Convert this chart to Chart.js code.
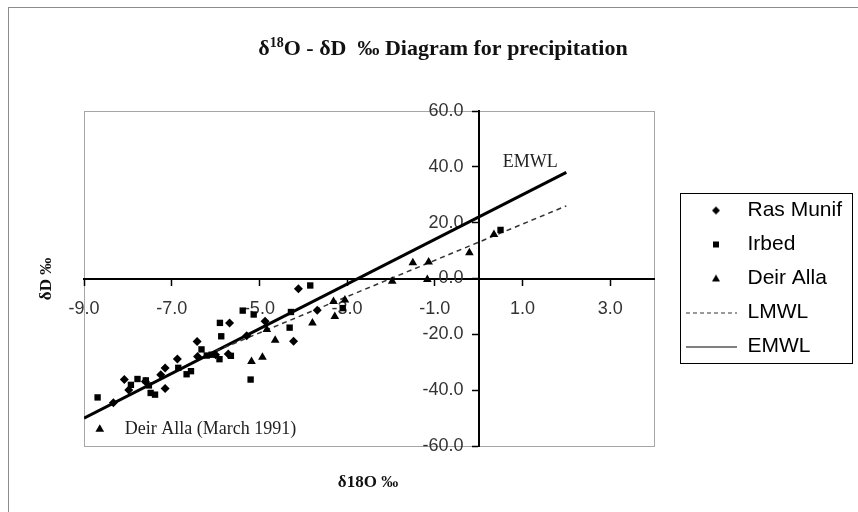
<!DOCTYPE html>
<html>
<head>
<meta charset="utf-8">
<script src="https://cdn.jsdelivr.net/npm/chart.js@4.4.1/dist/chart.umd.min.js"></script>
<style>
  html, body { margin: 0; padding: 0; background: #fff; }
  #wrap { width: 858px; height: 512px; }
</style>
</head>
<body>
<div id="wrap"><canvas id="isoChart"></canvas></div>
<script>
// values (δ18O, δD in per mil)
const rasMunifX = [-8.33, -8.08, -7.98, -7.6, -7.25, -7.15, -7.15, -6.87, -6.42, -6.41, -6.0, -5.71, -5.68, -5.29, -4.87, -4.22, -4.11, -3.68];
const rasMunifY = [-44.5, -36.2, -39.9, -36.9, -34.5, -32.1, -39.4, -28.8, -22.6, -27.9, -27.3, -27.0, -15.9, -20.5, -15.3, -22.5, -3.7, -11.4];

const irbedX = [-8.69, -7.93, -7.78, -7.59, -7.52, -7.48, -7.38, -6.85, -6.66, -6.56, -6.32, -6.2, -6.09, -5.91, -5.65, -5.87, -5.9, -5.38, -5.13, -5.2, -4.31, -4.28, -3.84, -3.1, 0.5];
const irbedY = [-42.6, -38.1, -36.0, -36.5, -38.3, -41.0, -41.6, -32.0, -34.3, -33.2, -25.4, -27.6, -27.3, -28.9, -27.7, -20.7, -15.9, -11.5, -12.9, -36.2, -17.6, -12.0, -2.5, -10.6, 17.4];

const deirAllaX = [-8.64, -5.18, -4.93, -4.83, -4.64, -3.79, -3.31, -3.28, -3.05, -1.97, -1.5, -1.14, -1.17, -0.21, 0.35];
const deirAllaY = [-54.0, -29.7, -28.2, -18.3, -22.1, -15.9, -8.2, -13.6, -7.7, -1.0, 5.6, 5.9, -0.4, 9.2, 15.8];

const lmwlX = [-6, 2];
const lmwlY = [-26, 26];
const emwlX = [-9, 2];
const emwlY = [-50, 38];

const xTicks = [-9, -7, -5, -3, -1, 1, 3];
const yTicks = [-60, -40, -20, 0, 20, 40, 60];

function pts(xs, ys) {
  return xs.map((x, i) => ({ x: x, y: ys[i] }));
}

// small legend keys, drawn as images so points and lines can share one width
const KEY_W = 70, KEY_H = 14;
function makeKey(kind) {
  const c = document.createElement('canvas');
  c.width = KEY_W; c.height = KEY_H;
  const g = c.getContext('2d');
  const cx = 49, cy = KEY_H / 2;
  g.fillStyle = '#000';
  g.strokeStyle = '#000';
  g.beginPath();
  if (kind === 'diamond') {
    g.moveTo(cx, cy - 4); g.lineTo(cx + 4, cy); g.lineTo(cx, cy + 4); g.lineTo(cx - 4, cy); g.closePath(); g.fill();
  } else if (kind === 'square') {
    g.fillRect(cx - 3, cy - 3, 6, 6);
  } else if (kind === 'triangle') {
    g.moveTo(cx, cy - 4); g.lineTo(cx + 4, cy + 3); g.lineTo(cx - 4, cy + 3); g.closePath(); g.fill();
  } else {
    g.lineWidth = 1;
    g.strokeStyle = kind === 'dash' ? '#333' : '#000';
    if (kind === 'dash') g.setLineDash([4, 3]);
    g.moveTo(19, cy + 0.5); g.lineTo(KEY_W, cy + 0.5); g.stroke();
  }
  return c;
}
const keyStyles = [makeKey('diamond'), makeKey('square'), makeKey('triangle'), makeKey('dash'), makeKey('solid')];

const decor = {
  id: 'decor',
  beforeDraw(chart) {
    const { ctx, chartArea: a } = chart;
    ctx.save();
    ctx.fillStyle = '#fff';
    ctx.fillRect(0, 0, chart.width, chart.height);
    ctx.strokeStyle = '#8c8c8c';
    ctx.lineWidth = 1;
    ctx.strokeRect(8.5, 7.5, 900, 600);
    ctx.strokeStyle = '#a6a6a6';
    ctx.strokeRect(a.left + 0.5, a.top + 0.5, a.right - a.left, a.bottom - a.top);
    ctx.restore();
  },
  afterDraw(chart) {
    const { ctx, scales } = chart;
    ctx.save();
    ctx.fillStyle = '#111';

    // title with superscript 18
    const parts = [
      { t: 'δ', f: 'bold 22px "Liberation Serif"', dy: 0 },
      { t: '18', f: 'bold 14px "Liberation Serif"', dy: -8 },
      { t: 'O - δD  ‰ Diagram for precipitation', f: 'bold 22px "Liberation Serif"', dy: 0 }
    ];
    let total = 0;
    parts.forEach(p => { ctx.font = p.f; p.w = ctx.measureText(p.t).width; total += p.w; });
    let tx = 443 - total / 2;
    ctx.textBaseline = 'alphabetic';
    ctx.textAlign = 'left';
    parts.forEach(p => { ctx.font = p.f; ctx.fillText(p.t, tx, 55 + p.dy); tx += p.w; });

    // axis titles
    ctx.font = 'bold 17px "Liberation Serif"';
    ctx.textAlign = 'center';
    ctx.textBaseline = 'middle';
    ctx.fillText('δ18O ‰', 368, 483);
    ctx.save();
    ctx.translate(47, 279);
    ctx.rotate(-Math.PI / 2);
    ctx.fillText('δD ‰', 0, 0);
    ctx.restore();

    // notes inside the plot
    ctx.font = '18px "Liberation Serif"';
    ctx.fillStyle = '#222';
    ctx.textAlign = 'center';
    ctx.fillText('EMWL', scales.x.getPixelForValue(1.18), scales.y.getPixelForValue(41.7));
    ctx.textAlign = 'left';
    ctx.fillText('Deir Alla (March 1991)', scales.x.getPixelForValue(-8.07), scales.y.getPixelForValue(-54));

    // legend frame
    const hb = chart.legend.legendHitBoxes;
    if (hb && hb.length) {
      const l = Math.min(...hb.map(h => h.left)) + 13;
      const r = Math.max(...hb.map(h => h.left + h.width)) + 10;
      const t = hb[0].top - 7;
      const b = hb[hb.length - 1].top + hb[hb.length - 1].height + 6;
      ctx.strokeStyle = '#000';
      ctx.lineWidth = 1;
      ctx.strokeRect(Math.round(l) + 0.5, Math.round(t) + 0.5, Math.round(r - l), Math.round(b - t));
    }
    ctx.restore();
  }
};

const tickFont = { family: '"Liberation Sans", Arial, sans-serif', size: 18 };

new Chart(document.getElementById('isoChart'), {
  type: 'scatter',
  data: {
    datasets: [
      { label: 'Ras Munif', data: pts(rasMunifX, rasMunifY), pointStyle: 'rectRot', pointRadius: 4.5, backgroundColor: '#000', borderColor: '#000', borderWidth: 0 },
      { label: 'Irbed', data: pts(irbedX, irbedY), pointStyle: 'rect', pointRadius: 4.5, backgroundColor: '#000', borderColor: '#000', borderWidth: 0 },
      { label: 'Deir Alla', data: pts(deirAllaX, deirAllaY), pointStyle: 'triangle', pointRadius: 5, backgroundColor: '#000', borderColor: '#000', borderWidth: 0 },
      { label: 'LMWL', data: pts(lmwlX, lmwlY), showLine: true, pointRadius: 0, borderColor: '#333', borderWidth: 1.5, borderDash: [5, 4] },
      { label: 'EMWL', data: pts(emwlX, emwlY), showLine: true, pointRadius: 0, borderColor: '#000', borderWidth: 3 }
    ]
  },
  options: {
    responsive: true,
    maintainAspectRatio: false,
    animation: false,
    layout: { padding: { left: 84, top: 111, bottom: 66, right: 14 } },
    plugins: {
      title: { display: false },
      tooltip: { enabled: false },
      legend: {
        position: 'right',
        labels: {
          usePointStyle: true,
          pointStyleWidth: KEY_W,
          padding: 13,
          color: '#111',
          font: { family: '"Liberation Sans", Arial, sans-serif', size: 21 },
          generateLabels: chart => chart.data.datasets.map((ds, i) => ({
            text: ds.label,
            pointStyle: keyStyles[i],
            fillStyle: '#000',
            strokeStyle: '#000',
            lineWidth: 0,
            hidden: false,
            datasetIndex: i
          }))
        }
      }
    },
    scales: {
      x: {
        type: 'linear',
        min: -9,
        max: 4,
        position: { y: 0 },
        afterBuildTicks: s => { s.ticks = xTicks.map(v => ({ value: v })); },
        ticks: { callback: v => Number(v).toFixed(1), font: tickFont, color: '#333', padding: 14, maxRotation: 0, autoSkip: false },
        grid: { display: true, drawOnChartArea: false, tickLength: 6, color: '#000', tickWidth: 1.5 },
        border: { display: true, color: '#000', width: 2 }
      },
      y: {
        type: 'linear',
        min: -60,
        max: 60,
        position: { x: 0 },
        afterBuildTicks: s => { s.ticks = yTicks.map(v => ({ value: v })); },
        // labels of a centred y axis sit flush on the axis, trailing spaces leave the gap
        ticks: { callback: v => Number(v).toFixed(1) + '   ', font: tickFont, color: '#333', autoSkip: false },
        grid: { display: true, drawOnChartArea: false, tickLength: 6, color: '#000', tickWidth: 1.5 },
        border: { display: true, color: '#000', width: 2 }
      }
    }
  },
  plugins: [decor]
});
</script>
</body>
</html>
